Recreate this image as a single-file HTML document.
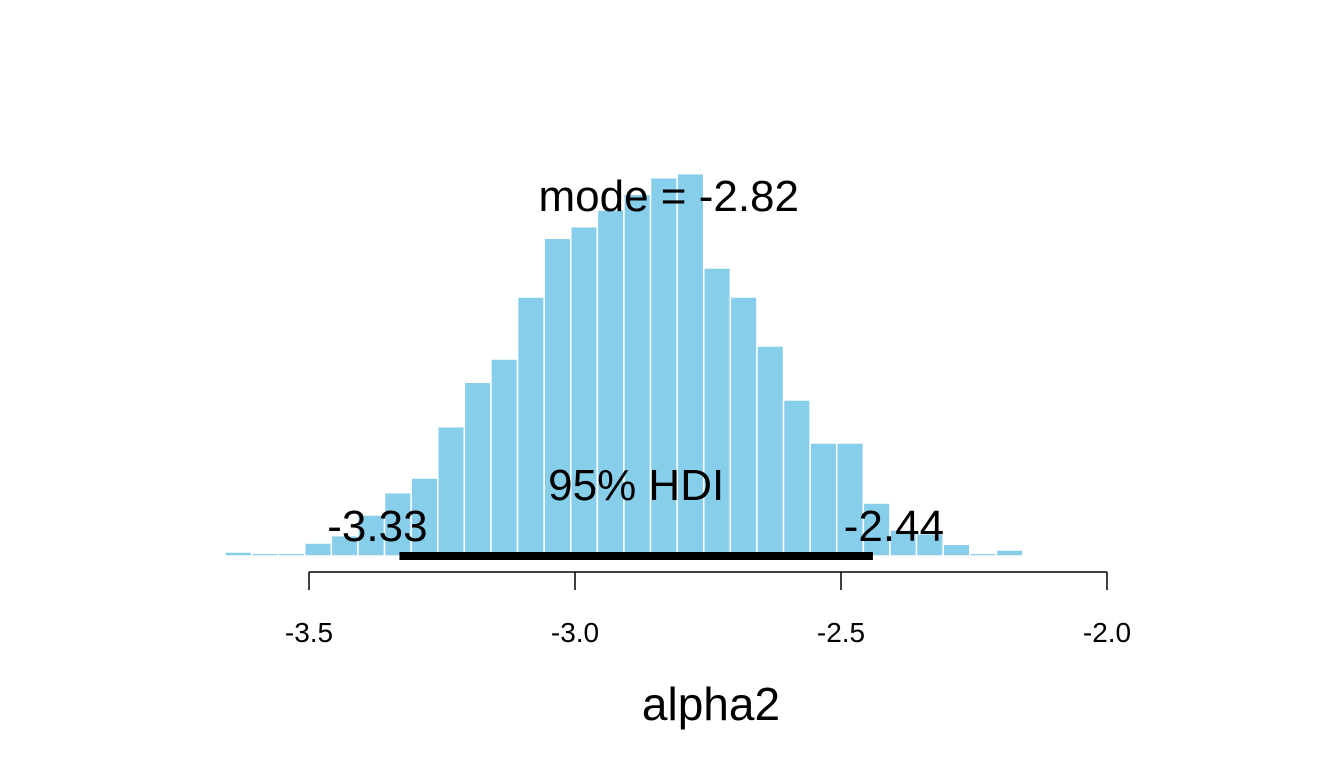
<!DOCTYPE html>
<html><head><meta charset="utf-8"><style>
html,body{margin:0;padding:0;background:#fff;}
svg text{font-family:"Liberation Sans",sans-serif;fill:#000;}
</style></head><body>
<svg id="chart" width="1344" height="768" xmlns="http://www.w3.org/2000/svg">
<g id="bars"></g>
<g id="axis"></g>
</svg>
<script>
const binStart = -3.658;
const binWidth = 0.05;
const counts = [4,2.7,2.7,13,20.3,41,63.3,78,129.3,173.7,197,259,317.7,329.3,346,361.7,378.3,382.3,288,259,210,156,113,113,53,26,22.3,11.7,2.7,6,0,0,0,0,0,0,0,1.2];
const xTicks = [-3.5,-3.0,-2.5,-2.0];
const xTickLabels = ["-3.5","-3.0","-2.5","-2.0"];
const hdiLow = -3.33, hdiHigh = -2.44, modeVal = -2.82;

const NS="http://www.w3.org/2000/svg";
const X = v => 309 + (v - (-3.5)) * 532;
const base = 556;
const Y = c => base - c;
function mk(tag, attrs, parent){const e=document.createElementNS(NS,tag);for(const k in attrs)e.setAttribute(k,attrs[k]);parent.appendChild(e);return e;}
const svg=document.getElementById('chart');
const gb=document.getElementById('bars');
counts.forEach((c,i)=>{
  if(c<=0) return;
  const x0=X(binStart+i*binWidth), x1=X(binStart+(i+1)*binWidth);
  const r=mk('rect',{x:x0,y:Y(c),width:x1-x0,height:c,fill:'#87ceeb',stroke:'#ffffff','stroke-width':1.5},gb);
  
  
});
const ga=document.getElementById('axis');
const al=mk('line',{x1:X(xTicks[0]),x2:X(xTicks[xTicks.length-1]),y1:572,y2:572,stroke:'#000','stroke-width':1.5},ga);


xTicks.forEach((t,i)=>{
  const tk=mk('line',{x1:X(t),x2:X(t),y1:572,y2:590,stroke:'#000','stroke-width':1.5},ga);
  
  
  const tl=mk('text',{x:X(t),y:642,'font-size':28,'text-anchor':'middle'},ga);
  tl.textContent=xTickLabels[i];
  
  
});
const hl=mk('line',{x1:X(hdiLow),x2:X(hdiHigh),y1:556,y2:556,stroke:'#000','stroke-width':8},svg);


function label(txt,x,y,size,name){const t=mk('text',{x:x,y:y,'font-size':size,'text-anchor':'middle'},svg);t.textContent=txt;return t;}
label('mode = '+modeVal.toFixed(2),X(modeVal)-2,211,44,'mode-label');
label('95% HDI',(X(hdiLow)+X(hdiHigh))/2,500,44,'hdi-label');
label(hdiLow.toFixed(2),X(hdiLow)-22,541,44,'hdi-low-label');
label(hdiHigh.toFixed(2),X(hdiHigh)+21,541,44,'hdi-high-label');
label('alpha2',711,720,46,'x-axis-title');
</script>
</body></html>
